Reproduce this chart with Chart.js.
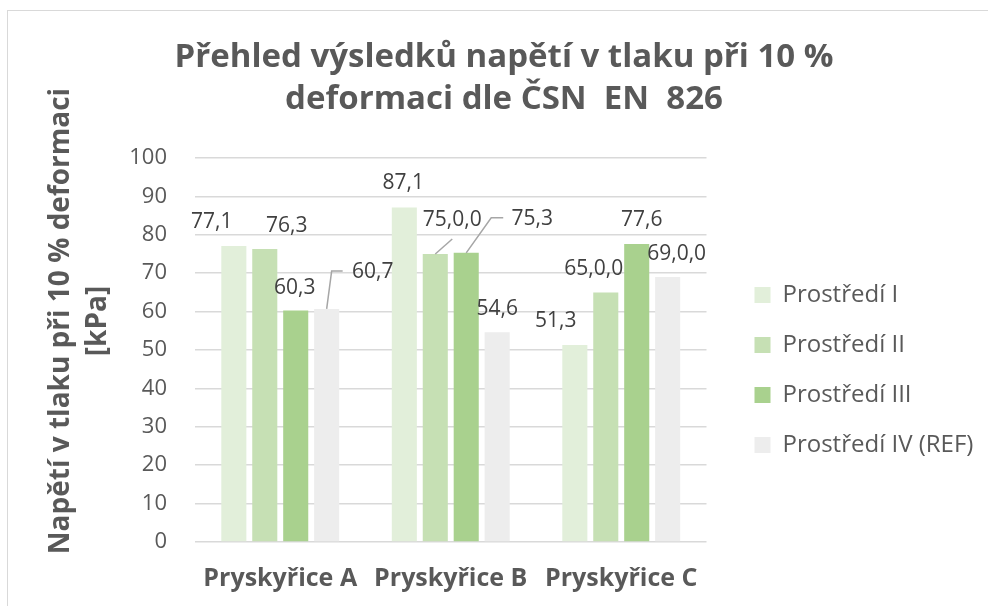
<!DOCTYPE html>
<html>
<head>
<meta charset="utf-8">
<script src="https://cdn.jsdelivr.net/npm/chart.js@4.4.1/dist/chart.umd.min.js"></script>
<style>
html, body { margin: 0; padding: 0; background: #fff; }
#wrap { position: relative; width: 988px; height: 606px; overflow: hidden; }
#frame { position: absolute; left: 7px; top: 10px; width: 1000px; height: 620px; border: 1px solid #d9d9d9; }
canvas { position: absolute; left: 0; top: 0; }
</style>
</head>
<body>
<div id="wrap"><div id="frame"></div><canvas id="graf" width="988" height="606"></canvas></div>
<script>
const kategorie = ['Pryskyřice A', 'Pryskyřice B', 'Pryskyřice C'];
const nazvyRad = ['Prostředí I', 'Prostředí II', 'Prostředí III', 'Prostředí IV (REF)'];
const prostrediI = [77.1, 87.1, 51.3];
const prostrediII = [76.3, 75.0, 65.0];
const prostrediIII = [60.3, 75.3, 77.6];
const prostrediIV = [60.7, 54.6, 69.0];
// popisky dat tak, jak jsou v grafu (i ty divne "75,0,0")
const popiskyI = ['77,1', '87,1', '51,3'];
const popiskyII = ['76,3', '75,0,0', '65,0,0'];
const popiskyIII = ['60,3', '75,3', '77,6'];
const popiskyIV = ['60,7', '54,6', '69,0,0'];
const osaYMin = 0, osaYMax = 100, osaYKrok = 10;

const barvy = ['#E2EFDA', '#C6E0B4', '#A9D18E', '#EDEDED'];
const hodnoty = [prostrediI, prostrediII, prostrediIII, prostrediIV];
const popisky = [popiskyI, popiskyII, popiskyIII, popiskyIV];

// posun popisku vuci vrcholu sloupce, pripadne vodici cara
const posunPopisku = [
    [{dx: -22, dy: -24}, {dx: -1, dy: -25}, {dx: -19, dy: -24}],
    [{dx: 22, dy: -23}, {dx: 17, dy: -34, cara: [[0, 0], [17, -15]]}, {dx: -12, dy: -23}],
    [{dx: -1, dy: -22}, {dx: 66, dy: -34, cara: [[0, 0], [25, -35], [37, -35]]}, {dx: 5, dy: -24}],
    [{dx: 46, dy: -37, cara: [[0, 0], [5, -38], [16, -38]]}, {dx: 0, dy: -23}, {dx: 9, dy: -23}]
];

const popiskyPlugin = {
    id: 'popisky',
    afterDatasetsDraw(chart) {
        const ctx = chart.ctx;
        ctx.save();
        ctx.font = '21px "Open Sans"';
        ctx.fillStyle = '#404040';
        ctx.textAlign = 'center';
        ctx.textBaseline = 'middle';
        chart.data.datasets.forEach(function (ds, i) {
            chart.getDatasetMeta(i).data.forEach(function (bar, j) {
                const p = posunPopisku[i][j];
                if (p.cara) {
                    ctx.strokeStyle = '#a6a6a6';
                    ctx.lineWidth = 1.5;
                    ctx.beginPath();
                    p.cara.forEach(function (b, k) {
                        if (k == 0) ctx.moveTo(bar.x + b[0], bar.y + b[1]);
                        else ctx.lineTo(bar.x + b[0], bar.y + b[1]);
                    });
                    ctx.stroke();
                }
                ctx.fillText(popisky[i][j], bar.x + p.dx, bar.y + p.dy);
            });
        });
        ctx.restore();
    }
};

const rozlozeniPlugin = {
    id: 'rozlozeni',
    afterLayout(chart) {
        // Excel ma legendu vic odsazenou a nize, nadpis trochu vpravo
        chart.legend.left += 22;
        chart.legend.right += 60;
        chart.legend.top += 67;
        chart.legend.bottom += 67;
        chart.titleBlock.left += 33;
        chart.titleBlock.right += 33;
    },
    afterDraw(chart) {
        const ctx = chart.ctx;
        const a = chart.chartArea;
        ctx.save();
        ctx.font = 'bold 28px "Open Sans"';
        ctx.fillStyle = '#595959';
        ctx.textAlign = 'center';
        ctx.textBaseline = 'middle';
        ctx.translate(a.left - 134, (a.top + a.bottom) / 2 - 29);
        ctx.rotate(-Math.PI / 2);
        ctx.fillText('Napětí v tlaku při 10 % deformaci', 0, 0);
        ctx.fillText('[kPa]', 0, 37);
        ctx.restore();
    }
};

const ctx = document.getElementById('graf').getContext('2d');
const graf = new Chart(ctx, {
    type: 'bar',
    data: {
        labels: kategorie,
        datasets: nazvyRad.map(function (n, i) {
            return {
                label: n,
                data: hodnoty[i],
                backgroundColor: barvy[i],
                borderWidth: 0,
                categoryPercentage: 0.726,
                barPercentage: 0.81
            };
        })
    },
    options: {
        responsive: false,
        animation: false,
        devicePixelRatio: 1,
        layout: { padding: { left: 0, right: 46, top: 0, bottom: 0 } },
        plugins: {
            title: {
                display: true,
                text: ['Přehled výsledků napětí v tlaku při 10 %', 'deformaci dle ČSN  EN  826'],
                color: '#595959',
                font: { family: 'Open Sans', size: 33, weight: 'bold', lineHeight: 42 / 33 },
                padding: { top: 37, bottom: 37 }
            },
            legend: {
                position: 'right',
                labels: {
                    boxWidth: 16,
                    boxHeight: 16,
                    padding: 26,
                    color: '#595959',
                    font: { family: 'Open Sans', size: 24, lineHeight: 29 / 24 }
                }
            },
            tooltip: { enabled: false }
        },
        scales: {
            x: {
                grid: { display: false },
                border: { display: false },
                ticks: {
                    color: '#595959',
                    padding: 14,
                    font: { family: 'Open Sans', size: 25, weight: 'bold' }
                },
                afterFit: function (s) { s.height = 64; }
            },
            y: {
                min: osaYMin,
                max: osaYMax,
                ticks: {
                    stepSize: osaYKrok,
                    color: '#595959',
                    padding: 28,
                    font: { family: 'Open Sans', size: 22 }
                },
                grid: { color: '#d9d9d9', lineWidth: 1.5, drawTicks: false },
                border: { display: false },
                afterFit: function (s) { s.width = 195; }
            }
        }
    },
    plugins: [popiskyPlugin, rozlozeniPlugin]
});
</script>
</body>
</html>
